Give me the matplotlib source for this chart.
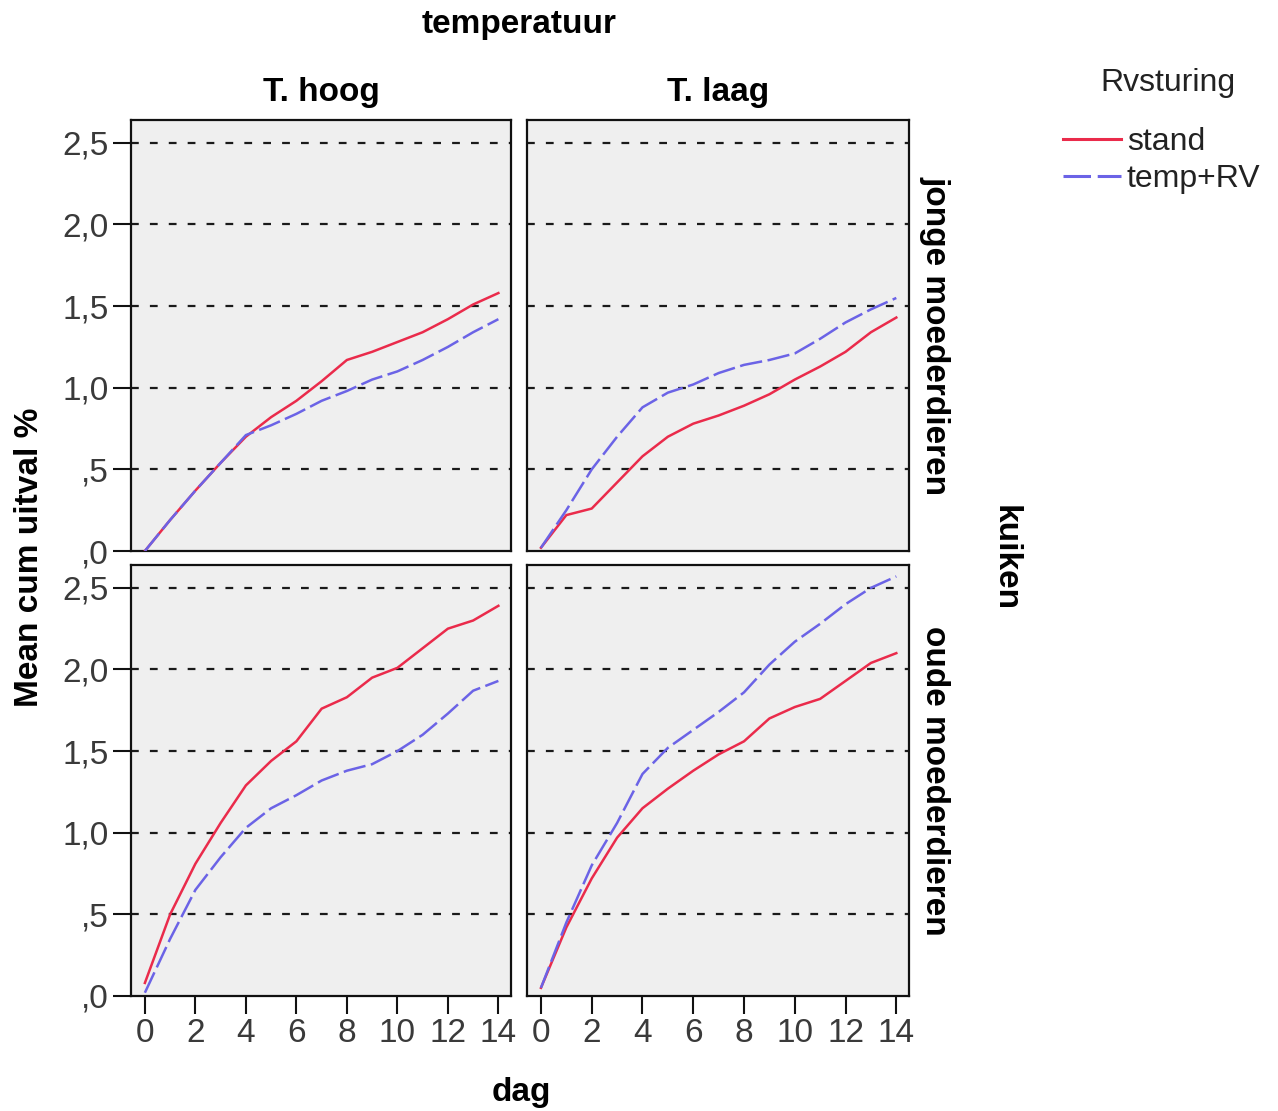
import numpy as np
import matplotlib
matplotlib.use("Agg")
from matplotlib import pyplot as plt
from matplotlib.lines import Line2D

days = np.arange(0, 15)

# mean cumulative mortality (%), per panel: (chick age, temperature)
jong_hoog_stand = [0.00, 0.19, 0.37, 0.54, 0.70, 0.82, 0.92, 1.04, 1.17, 1.22, 1.28, 1.34, 1.42, 1.51, 1.58]
jong_hoog_temprv = [0.00, 0.19, 0.37, 0.54, 0.71, 0.77, 0.84, 0.92, 0.98, 1.05, 1.10, 1.17, 1.25, 1.34, 1.42]
jong_laag_stand = [0.02, 0.22, 0.26, 0.42, 0.58, 0.70, 0.78, 0.83, 0.89, 0.96, 1.05, 1.13, 1.22, 1.34, 1.43]
jong_laag_temprv = [0.02, 0.25, 0.50, 0.70, 0.88, 0.97, 1.02, 1.09, 1.14, 1.17, 1.21, 1.30, 1.40, 1.48, 1.55]
oud_hoog_stand = [0.08, 0.50, 0.81, 1.06, 1.29, 1.44, 1.56, 1.76, 1.83, 1.95, 2.01, 2.13, 2.25, 2.30, 2.39]
oud_hoog_temprv = [0.02, 0.35, 0.65, 0.85, 1.03, 1.15, 1.23, 1.32, 1.38, 1.42, 1.50, 1.60, 1.73, 1.87, 1.93]
oud_laag_stand = [0.05, 0.42, 0.72, 0.97, 1.15, 1.27, 1.38, 1.48, 1.56, 1.70, 1.77, 1.82, 1.93, 2.04, 2.10]
oud_laag_temprv = [0.05, 0.45, 0.80, 1.06, 1.36, 1.52, 1.63, 1.74, 1.86, 2.03, 2.17, 2.28, 2.40, 2.50, 2.57]

col_labels = ["T. hoog", "T. laag"]
row_labels = ["jonge moederdieren", "oude moederdieren"]
series_labels = ["stand", "temp+RV"]
y_ticks = [0.0, 0.5, 1.0, 1.5, 2.0, 2.5]
y_ticklabels = [",0", ",5", "1,0", "1,5", "2,0", "2,5"]
x_ticks = [0, 2, 4, 6, 8, 10, 12, 14]

panels = [[(jong_hoog_stand, jong_hoog_temprv), (jong_laag_stand, jong_laag_temprv)],
          [(oud_hoog_stand, oud_hoog_temprv), (oud_laag_stand, oud_laag_temprv)]]

RED = "#ea2b4b"
BLUE = "#6b63e6"
DASH = (0, (9, 2.2))
W, H = 1278, 1111
sans = ["Liberation Sans", "DejaVu Sans"]
bold = dict(family=sans, weight="bold", size=24)
narrow = ["Liberation Sans Narrow", "Liberation Sans", "DejaVu Sans"]

fig = plt.figure(figsize=(W / 100, H / 100), dpi=100)
fig.patch.set_facecolor("white")

# panel boxes in pixels: left, right, top, bottom
xs = [(131, 511), (527, 909)]
ys = [(120, 551), (565, 996)]

for r in range(2):
    for c in range(2):
        x0, x1 = xs[c]
        t, b = ys[r]
        ax = fig.add_axes([x0 / W, 1 - b / H, (x1 - x0) / W, (b - t) / H])
        ax.set_facecolor("#efefef")
        stand, temprv = panels[r][c]
        for yv in y_ticks[1:]:
            ax.axhline(yv, color="#1a1a1a", lw=1.6, ls=(0, (3.5, 5)), zorder=1)
        ax.plot(days, stand, color=RED, lw=1.8, zorder=3)
        ax.plot(days, temprv, color=BLUE, lw=1.8, ls=DASH, zorder=3)
        ax.set_xlim(-0.55, 14.5)
        ax.set_ylim(0, 2.64)
        for s in ax.spines.values():
            s.set_linewidth(1.6)
            s.set_color("#111111")
        ax.set_yticks(y_ticks)
        ax.set_xticks(x_ticks)
        ax.tick_params(direction="out", length=13, width=1.5, color="#111111",
                       labelcolor="#3a3a3a", pad=3)
        if c == 0:
            ax.set_yticklabels(y_ticklabels, family=narrow, size=24)
        else:
            ax.tick_params(axis="y", left=False, labelleft=False)
        if r == 1:
            ax.set_xticklabels([str(v) for v in x_ticks], family=narrow, size=24)
        else:
            ax.tick_params(axis="x", bottom=False, labelbottom=False)

fig.text(519 / W, 1 - 25 / H, "temperatuur", ha="center", va="center", **bold)
for c, lab in enumerate(col_labels):
    fig.text((sum(xs[c]) / 2) / W, 1 - 93 / H, lab, ha="center", va="center", **bold)
for r, lab in enumerate(row_labels):
    fig.text(935 / W, 1 - (sum(ys[r]) / 2) / H, lab, ha="center", va="center",
             rotation=-90, **bold)
fig.text(1005 / W, 1 - 558 / H, "kuiken", ha="center", va="center", rotation=-90, **bold)
fig.text(30 / W, 1 - 557 / H, "Mean cum uitval %", ha="center", va="center",
         rotation=90, **bold)
fig.text(521 / W, 1 - 1093 / H, "dag", ha="center", va="center", **bold)

# legend: title placed separately to get the wider gap below it
fig.text(1168 / W, 1 - 83 / H, "Rvsturing", ha="center", va="center",
         family=sans, size=23, color="#222222")
handles = [Line2D([], [], color=RED, lw=2.2),
           Line2D([], [], color=BLUE, lw=2.2, ls=DASH)]
leg = fig.legend(handles, series_labels, loc="upper left",
                 bbox_to_anchor=(1063 / W, 1 - 127 / H), frameon=False,
                 handlelength=1.8, handletextpad=0.2,
                 labelspacing=0.22, borderaxespad=0, borderpad=0,
                 prop=dict(family=sans, size=23))
for t in leg.get_texts():
    t.set_color("#222222")

fig.savefig("out.png", dpi=100)
